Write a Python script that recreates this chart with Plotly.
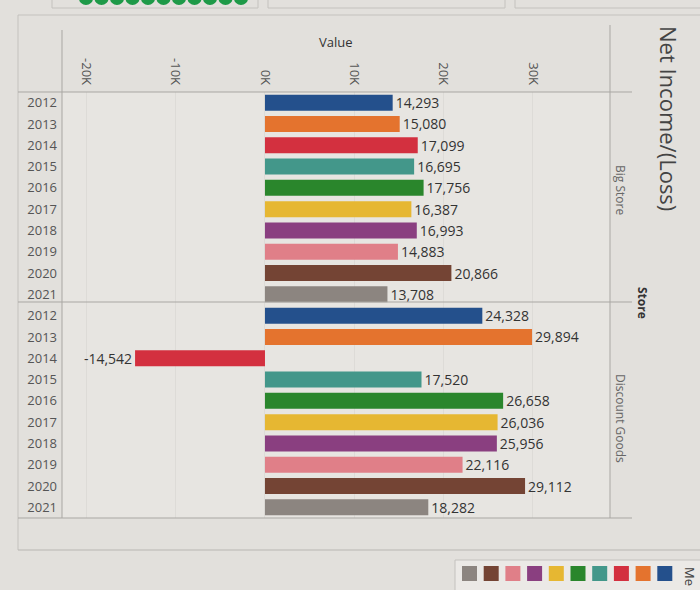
import plotly.graph_objects as go
from plotly.subplots import make_subplots

years = ["2012", "2013", "2014", "2015", "2016", "2017", "2018", "2019", "2020", "2021"]
big_store = [14293, 15080, 17099, 16695, 17756, 16387, 16993, 14883, 20866, 13708]
discount_goods = [24328, 29894, -14542, 17520, 26658, 26036, 25956, 22116, 29112, 18282]
year_colors = ["#24508c", "#e4732e", "#d3303f", "#43978a", "#2a862c",
               "#e6b732", "#8a3f80", "#e07f88", "#744434", "#8c8580"]
tick_vals = [-20000, -10000, 0, 10000, 20000, 30000]
tick_text = ["-20K", "-10K", "0K", "10K", "20K", "30K"]
stores = ["Big Store", "Discount Goods"]

W, H = 700, 590
L, R, T, B = 62, 90, 92, 72
PW, PH = W - L - R, H - T - B

def px(x):
    return (x - L) / PW

def py(y):
    return (H - B - y) / PH

fig = make_subplots(rows=2, cols=1, shared_xaxes=True, vertical_spacing=0)

for i, vals in enumerate([big_store, discount_goods]):
    fig.add_trace(go.Bar(
        x=vals, y=years, orientation="h",
        marker=dict(color=year_colors, line=dict(width=0)),
        text=[f"{v:,}" for v in vals], textposition="outside", constraintext="none",
        textfont=dict(size=14, color="#333333", family="Open Sans"),
        cliponaxis=False, showlegend=False, name=stores[i],
    ), row=i + 1, col=1)

xr = [-22720, 38620]
grid = "#dddbd7"
fig.update_xaxes(range=xr, tickvals=tick_vals, ticktext=tick_text, showgrid=True,
                 gridcolor=grid, gridwidth=1, zeroline=False, showline=False)
fig.update_layout(xaxis=dict(side="top", showticklabels=True, tickangle=90, ticks="",
                             ticklabelstandoff=4,
                             tickfont=dict(size=13, color="#555555", family="Open Sans")))
fig.update_layout(xaxis2=dict(showticklabels=False, ticks=""))
for ax in ["yaxis", "yaxis2"]:
    fig.update_layout(**{ax: dict(autorange="reversed", showgrid=False, zeroline=False,
                                  tickfont=dict(size=13, color="#555555", family="Open Sans"),
                                  ticks="", ticklabelstandoff=4)})

fig.update_layout(
    width=W, height=H, margin=dict(l=L, r=R, t=T, b=B),
    paper_bgcolor="#e2e0dc", plot_bgcolor="#e7e5e1",
    bargap=0.25, font=dict(family="Open Sans", color="#555555"),
)

line_c = "#a9a7a3"
shapes = []
# container borders
shapes.append(dict(type="line", xref="paper", yref="paper", x0=px(18), x1=px(700), y0=py(15), y1=py(15), line=dict(color="#c4c2be", width=1)))
shapes.append(dict(type="line", xref="paper", yref="paper", x0=px(18), x1=px(18), y0=py(15), y1=py(550), line=dict(color="#c4c2be", width=1)))
shapes.append(dict(type="line", xref="paper", yref="paper", x0=px(18), x1=px(700), y0=py(550), y1=py(550), line=dict(color="#b8b6b2", width=1)))
# row separators
for yy in [92, 302, 518]:
    shapes.append(dict(type="line", xref="paper", yref="paper", x0=px(18), x1=px(632), y0=py(yy), y1=py(yy), line=dict(color=line_c, width=1)))
# vertical lines
shapes.append(dict(type="line", xref="paper", yref="paper", x0=px(62), x1=px(62), y0=py(30), y1=py(518), line=dict(color=line_c, width=1)))
shapes.append(dict(type="line", xref="paper", yref="paper", x0=px(610), x1=px(610), y0=py(25), y1=py(518), line=dict(color=line_c, width=1)))
# top dashboard pieces
shapes.append(dict(type="rect", xref="paper", yref="paper", x0=px(52), x1=px(258), y0=py(8), y1=py(-5), line=dict(color="#c4c2be", width=1), fillcolor="rgba(0,0,0,0)"))
shapes.append(dict(type="rect", xref="paper", yref="paper", x0=px(268), x1=px(505), y0=py(8), y1=py(-5), line=dict(color="#c4c2be", width=1), fillcolor="rgba(0,0,0,0)"))
shapes.append(dict(type="rect", xref="paper", yref="paper", x0=px(515), x1=px(705), y0=py(8), y1=py(-5), line=dict(color="#c4c2be", width=1), fillcolor="rgba(0,0,0,0)"))
for k in range(11):
    cx = 86 + k * 15.5
    shapes.append(dict(type="circle", xref="paper", yref="paper", x0=px(cx - 7), x1=px(cx + 7), y0=py(-8), y1=py(5), line=dict(width=0), fillcolor="#1e9a48"))
# bottom legend
shapes.append(dict(type="rect", xref="paper", yref="paper", x0=px(455), x1=px(705), y0=py(560), y1=py(595), line=dict(color="#c4c2be", width=1), fillcolor="#ebe9e6"))
for k, c in enumerate(reversed(year_colors)):
    x0 = 462 + k * 21.7
    shapes.append(dict(type="rect", xref="paper", yref="paper", x0=px(x0), x1=px(x0 + 15), y0=py(566), y1=py(581), line=dict(width=0), fillcolor=c))
fig.update_layout(shapes=shapes)

def note(text, x, y, size, color, angle=0):
    return dict(text=text, xref="paper", yref="paper", x=px(x), y=py(y), xanchor="center",
                yanchor="middle", textangle=angle, showarrow=False,
                font=dict(size=size, color=color, family="Open Sans"))

ann = [
    note("Value", 336, 42, 13, "#333333"),
    note("Big Store", 621, 190, 12, "#666666", 90),
    note("Discount Goods", 621, 418, 12, "#666666", 90),
    note("<b>Store</b>", 643, 303, 12, "#333333", 90),
    note("Net Income/(Loss)", 669, 118, 22, "#444444", 90),
    note("Me", 690, 576, 13, "#444444", 90),
]
fig.update_layout(annotations=ann)

fig.write_html("out.html")
